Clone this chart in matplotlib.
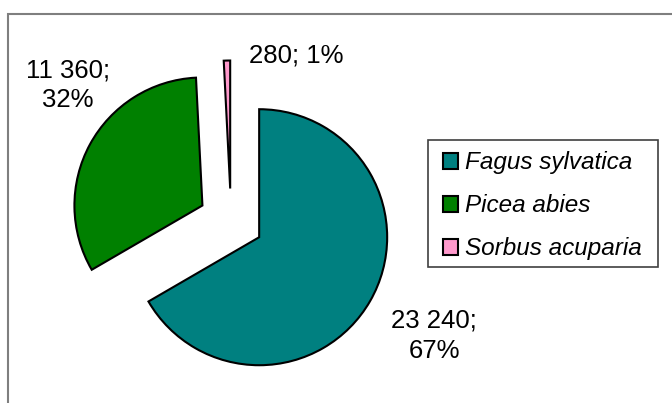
import matplotlib.pyplot as plt
from matplotlib.patches import Rectangle

plt.rcParams['font.family'] = ['Liberation Sans', 'DejaVu Sans']

species = ['Fagus sylvatica', 'Picea abies', 'Sorbus acuparia']
values = [23240, 11360, 280]
percents = ['67%', '32%', '1%']
colors = ['#008080', '#008000', '#FF99CC']

W, H = 672, 403
fig = plt.figure(figsize=(W / 100, H / 100), dpi=100)
ax = fig.add_axes([0, 0, 1, 1])

wedges, _ = ax.pie(values, explode=[32.5] * 3, radius=128, center=(231, H - 221),
                   startangle=90, counterclock=False, colors=colors,
                   wedgeprops=dict(edgecolor='black', linewidth=1.5))
ax.set_xlim(0, W)
ax.set_ylim(0, H)
ax.set_aspect('auto')
ax.axis('off')

# data labels "value; percent"
def lab(v, p, two_lines=True):
    s = f'{v:,}'.replace(',', ' ') + ';'
    return s + ('\n' if two_lines else ' ') + p

ax.text(434, H - 335.5, lab(values[0], percents[0]), ha='center', va='center',
        fontsize=18.5, linespacing=1.35)
ax.text(68, H - 85, lab(values[1], percents[1]), ha='center', va='center',
        fontsize=18.5, linespacing=1.3)
ax.text(296, H - 55, lab(values[2], percents[2], False), ha='center', va='center',
        fontsize=18.5)

# outer chart frame
ax.add_patch(Rectangle((8, -20), 720, H - 14 + 20, fill=False,
                       edgecolor='#7f7f7f', linewidth=1.5, clip_on=True))

# legend box drawn separately so the padding can differ per side
ax.add_patch(Rectangle((428, H - 267), 230, 127, fill=False,
                       edgecolor='#404040', linewidth=1.2))
leg = ax.legend(wedges, species, loc='upper left',
                bbox_to_anchor=(443 / W, 1 - 151.5 / H),
                prop=dict(style='italic', size=17.5),
                handlelength=0.6, handleheight=0.6, handletextpad=0.3,
                labelspacing=0.82, borderpad=0, borderaxespad=0,
                frameon=False)
for h in leg.legend_handles:
    h.set_linewidth(1.5)

fig.savefig('out.png', dpi=100)
